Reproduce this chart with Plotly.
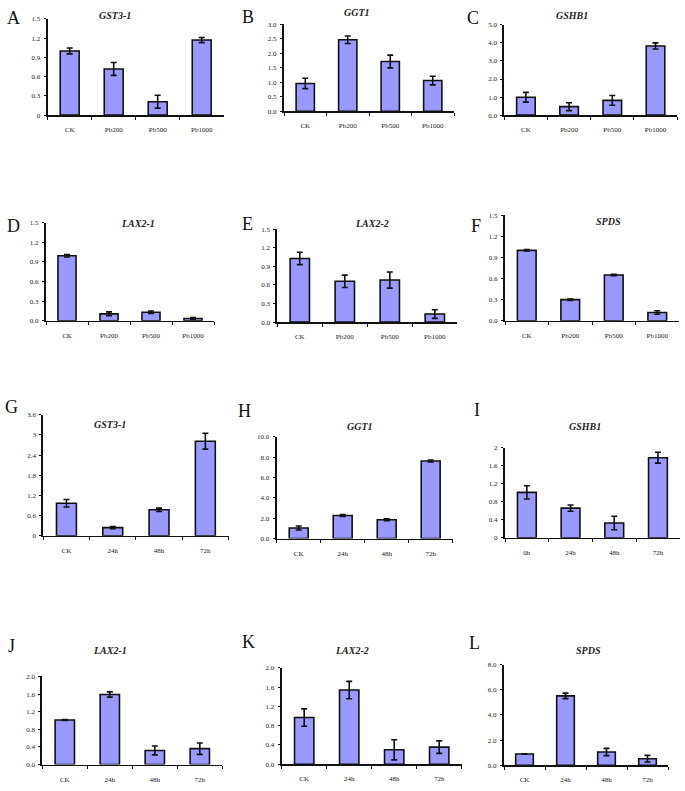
import plotly.graph_objects as go

W, H = 685, 791

# ---------------- data ----------------
panel_letters = ["A", "B", "C", "D", "E", "F", "G", "H", "I", "J", "K", "L"]
gene_titles = ["GST3-1", "GGT1", "GSHB1", "LAX2-1", "LAX2-2", "SPDS",
               "GST3-1", "GGT1", "GSHB1", "LAX2-1", "LAX2-2", "SPDS"]

pb_categories = ["CK", "Pb200", "Pb500", "Pb1000"]
time_categories = ["CK", "24h", "48h", "72h"]
time_categories_I = ["0h", "24h", "48h", "72h"]

A_values = [1.00, 0.72, 0.21, 1.17]
A_errors = [0.045, 0.10, 0.10, 0.04]
B_values = [0.96, 2.47, 1.72, 1.06]
B_errors = [0.18, 0.13, 0.22, 0.15]
C_values = [0.99, 0.47, 0.82, 3.83]
C_errors = [0.27, 0.22, 0.27, 0.17]
D_values = [0.995, 0.106, 0.13, 0.035]
D_errors = [0.02, 0.03, 0.02, 0.015]
E_values = [1.03, 0.66, 0.68, 0.13]
E_errors = [0.10, 0.10, 0.13, 0.07]
F_values = [1.00, 0.30, 0.65, 0.117]
F_errors = [0.01, 0.01, 0.01, 0.025]
G_values = [0.97, 0.245, 0.775, 2.815]
G_errors = [0.11, 0.03, 0.05, 0.235]
H_values = [1.04, 2.27, 1.85, 7.63]
H_errors = [0.20, 0.10, 0.10, 0.10]
I_values = [1.01, 0.66, 0.33, 1.78]
I_errors = [0.147, 0.07, 0.15, 0.12]
J_values = [1.01, 1.59, 0.32, 0.36]
J_errors = [0.01, 0.06, 0.10, 0.13]
K_values = [0.97, 1.54, 0.30, 0.355]
K_errors = [0.18, 0.18, 0.21, 0.13]
L_values = [0.89, 5.51, 1.05, 0.52]
L_errors = [0.02, 0.22, 0.29, 0.26]

A_ticks = ["0", "0.3", "0.6", "0.9", "1.2", "1.5"]
B_ticks = ["0.0", "0.5", "1.0", "1.5", "2.0", "2.5", "3.0"]
C_ticks = ["0.0", "1.0", "2.0", "3.0", "4.0", "5.0"]
D_ticks = ["0.0", "0.3", "0.6", "0.9", "1.2", "1.5"]
E_ticks = ["0.0", "0.3", "0.6", "0.9", "1.2", "1.5"]
F_ticks = ["0.0", "0.3", "0.6", "0.9", "1.2", "1.5"]
G_ticks = ["0", "0.6", "1.2", "1.8", "2.4", "3", "3.6"]
H_ticks = ["0.0", "2.0", "4.0", "6.0", "8.0", "10.0"]
I_ticks = ["0", "0.4", "0.8", "1.2", "1.6", "2"]
J_ticks = ["0.0", "0.4", "0.8", "1.2", "1.6", "2.0"]
K_ticks = ["0.0", "0.4", "0.8", "1.2", "1.6", "2.0"]
L_ticks = ["0.0", "2.0", "4.0", "6.0", "8.0"]

categories = [pb_categories] * 6 + [time_categories, time_categories, time_categories_I,
                                    time_categories, time_categories, time_categories]
values = [A_values, B_values, C_values, D_values, E_values, F_values,
          G_values, H_values, I_values, J_values, K_values, L_values]
errors = [A_errors, B_errors, C_errors, D_errors, E_errors, F_errors,
          G_errors, H_errors, I_errors, J_errors, K_errors, L_errors]
tick_labels = [A_ticks, B_ticks, C_ticks, D_ticks, E_ticks, F_ticks,
               G_ticks, H_ticks, I_ticks, J_ticks, K_ticks, L_ticks]

# ---------------- layout (pixel geometry) ----------------
# left, bottom, top, category spacing (px)
geom = [
    (47.7, 112.3, 15.0, 44.0),
    (284.0, 108.3, 20.7, 42.5),
    (504.3, 112.3, 21.0, 43.2),
    (46.0, 320.0, 221.0, 42.0),
    (277.3, 321.3, 227.7, 45.0),
    (505.0, 320.0, 213.3, 43.5),
    (43.3, 537.3, 415.0, 46.3),
    (276.7, 540.0, 437.3, 44.0),
    (505.0, 539.3, 448.3, 43.7),
    (42.3, 768.3, 679.3, 45.0),
    (281.7, 768.0, 670.7, 45.0),
    (504.0, 769.0, 667.3, 41.0),
]
title_pos = [(115, 12), (356.7, 9), (571.7, 12), (138, 222), (371.7, 222), (608, 220),
             (110, 425), (360, 426.7), (585, 426.7), (110, 653), (351.7, 653), (588.3, 652.7)]
letter_pos = [(13, 14), (248, 13), (472.5, 14), (13, 224), (247.5, 222.5), (475.5, 224),
              (11, 407), (244.5, 411), (477, 410.5), (11.5, 649), (248, 645), (474.5, 646)]


def px(x):
    return x / W


def py(y):
    return 1 - y / H


fig = go.Figure()
annotations = []
tick_font = dict(family="Liberation Serif", size=7, color="#222222")

for i in range(12):
    left, bottom, top, sp = geom[i]
    right = left + 4 * sp
    n = "" if i == 0 else str(i + 1)
    ticks_txt = tick_labels[i]
    tickvals = [float(t) for t in ticks_txt]
    ymax = tickvals[-1]
    fig.add_trace(go.Bar(
        x=categories[i], y=values[i],
        xaxis="x" + n, yaxis="y" + n,
        width=0.43,
        marker=dict(color="#9999FF", line=dict(color="#111111", width=1.6)),
        error_y=dict(type="data", array=errors[i], visible=True,
                     color="#111111", thickness=1.6, width=3),
        showlegend=False,
    ))
    fig.layout["xaxis" + n] = dict(
        domain=[px(left), px(right)], anchor="y" + n, type="category",
        range=[-0.5, 3.5], showline=True, linecolor="#111111", linewidth=1.6,
        ticks="outside", tickson="boundaries", ticklen=3, tickcolor="#111111",
        tickfont=tick_font, ticklabelstandoff=7, showgrid=False, zeroline=False,
        fixedrange=True,
    )
    fig.layout["yaxis" + n] = dict(
        domain=[py(bottom), py(top)], anchor="x" + n,
        range=[0, ymax], tickvals=tickvals, ticktext=ticks_txt,
        showline=True, linecolor="#111111", linewidth=2,
        ticks="outside", ticklen=2, tickcolor="#111111",
        tickfont=tick_font, ticklabelstandoff=2, showgrid=False, zeroline=False,
        fixedrange=True,
    )
    tx, ty = title_pos[i]
    annotations.append(dict(
        x=px(tx), y=py(ty), xref="paper", yref="paper", showarrow=False,
        text="<b><i>" + gene_titles[i] + "</i></b>",
        font=dict(family="Liberation Serif", size=10, color="#222222"),
        xanchor="center", yanchor="middle",
    ))
    lx, ly = letter_pos[i]
    annotations.append(dict(
        x=px(lx), y=py(ly), xref="paper", yref="paper", showarrow=False,
        text=panel_letters[i],
        font=dict(family="Liberation Serif", size=18, color="#111111"),
        xanchor="center", yanchor="middle",
    ))

fig.update_layout(
    width=W, height=H, margin=dict(l=0, r=0, t=0, b=0),
    paper_bgcolor="white", plot_bgcolor="white",
    annotations=annotations, bargap=0.5,
)

fig.write_html(
    "out.html",
    config={"displayModeBar": False, "staticPlot": True},
    post_script="document.body.style.margin='0';document.body.style.overflow='hidden';",
)
